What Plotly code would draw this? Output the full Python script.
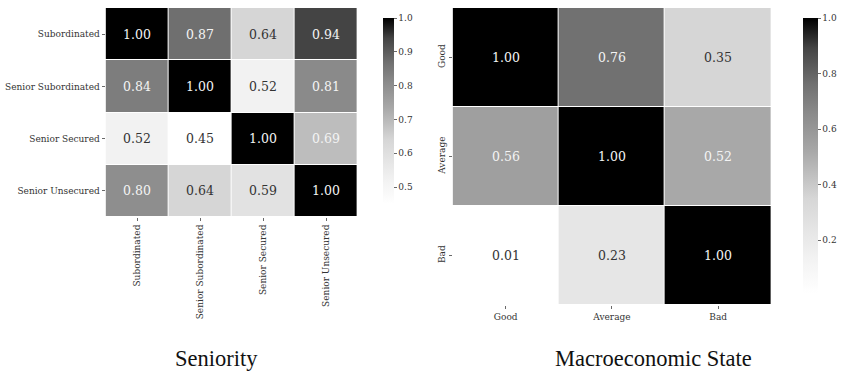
import plotly.graph_objects as go

# ---------------- data ----------------
sen_labels = ["Subordinated", "Senior Subordinated", "Senior Secured", "Senior Unsecured"]
sen_values = [
    [1.00, 0.87, 0.64, 0.94],
    [0.84, 1.00, 0.52, 0.81],
    [0.52, 0.45, 1.00, 0.69],
    [0.80, 0.64, 0.59, 1.00],
]
sen_ticks = [0.5, 0.6, 0.7, 0.8, 0.9, 1.0]

mac_labels = ["Good", "Average", "Bad"]
mac_values = [
    [1.00, 0.76, 0.35],
    [0.56, 1.00, 0.52],
    [0.01, 0.23, 1.00],
]
mac_ticks = [0.2, 0.4, 0.6, 0.8, 1.0]

titles = ["Seniority", "Macroeconomic State"]

# ---------------- style ----------------
W, H = 847, 374
# grey ramp (position, grey level) as seen in the reference
grey_stops = [(0.0, 255), (0.127, 242), (0.222, 230), (0.345, 214), (0.515, 168),
              (0.655, 138), (0.76, 112), (0.891, 68), (1.0, 0)]
colorscale = [[p, f"rgb({g},{g},{g})"] for p, g in grey_stops]
TICK_FONT = dict(family="DejaVu Serif", size=9, color="#333333")
ANN_FONT = "DejaVu Serif"


def px_x(p):
    return p / W


def px_y(p):
    return 1 - p / H


def grey_at(t):
    t = min(max(t, 0.0), 1.0)
    for (p0, g0), (p1, g1) in zip(grey_stops[:-1], grey_stops[1:]):
        if p0 <= t <= p1:
            return g0 + (g1 - g0) * (t - p0) / (p1 - p0)
    return 0


fig = go.Figure()

panels = [
    dict(labels=sen_labels, z=sen_values, ticks=sen_ticks, xa="x", ya="y",
         xdom=[px_x(108), px_x(366)], ydom=[px_y(217), px_y(8)],
         cbx=px_x(382), cbthick=11, cby=(8, 214), xangle=-90, yangle=0),
    dict(labels=mac_labels, z=mac_values, ticks=mac_ticks, xa="x2", ya="y2",
         xdom=[px_x(463), px_x(789)], ydom=[px_y(305), px_y(8)],
         cbx=px_x(811), cbthick=15, cby=(8, 303), xangle=0, yangle=-90),
]

annotations = []
for k, p in enumerate(panels):
    flat = [v for row in p["z"] for v in row]
    zmin, zmax = min(flat), max(flat)
    top, bot = p["cby"]
    fig.add_trace(go.Heatmap(
        z=p["z"], x=p["labels"], y=p["labels"],
        xaxis=p["xa"], yaxis=p["ya"],
        colorscale=colorscale, zmin=zmin, zmax=zmax,
        xgap=1, ygap=1, hoverinfo="skip",
        colorbar=dict(
            x=p["cbx"], xanchor="left", xref="paper",
            y=px_y((top + bot) / 2), yanchor="middle",
            len=(bot - top) / H, lenmode="fraction",
            thickness=p["cbthick"], thicknessmode="pixels",
            outlinewidth=0, tickvals=p["ticks"], tickformat=".1f",
            ticks="outside", ticklen=3, tickwidth=0.8, tickcolor="#444",
            tickfont=TICK_FONT,
        ),
    ))
    sfx = "" if k == 0 else "2"
    fig.update_layout(**{
        "xaxis" + sfx: dict(domain=p["xdom"], anchor=p["ya"], showgrid=False,
                            zeroline=False, showline=False, ticks="outside",
                            ticklen=3, tickwidth=0.8, tickcolor="#444",
                            tickangle=p["xangle"], tickfont=TICK_FONT,
                            fixedrange=True),
        "yaxis" + sfx: dict(domain=p["ydom"], anchor=p["xa"], showgrid=False,
                            zeroline=False, showline=False, ticks="outside",
                            ticklen=3, tickwidth=0.8, tickcolor="#444",
                            tickangle=p["yangle"], tickfont=TICK_FONT,
                            autorange="reversed", fixedrange=True),
    })
    for i, row in enumerate(p["z"]):
        for j, v in enumerate(row):
            g = grey_at((v - zmin) / (zmax - zmin))
            col = "#333333" if g > 200 else "#f4f4f4"
            annotations.append(dict(
                x=p["labels"][j], y=p["labels"][i], xref=p["xa"], yref=p["ya"],
                text=f"{v:.2f}", showarrow=False,
                font=dict(family=ANN_FONT, size=12.5, color=col),
            ))

for t, cx in zip(titles, [221, 668]):
    annotations.append(dict(
        x=px_x(cx), y=px_y(358), xref="paper", yref="paper",
        xanchor="center", yanchor="middle", text=t, showarrow=False,
        font=dict(family="Liberation Serif, serif", size=22.5, color="#111111"),
    ))

fig.update_layout(
    width=W, height=H, margin=dict(l=0, r=0, t=0, b=0),
    paper_bgcolor="white", plot_bgcolor="white",
    annotations=annotations, showlegend=False,
)

fig.write_html("out.html",
               config={"displayModeBar": False, "staticPlot": True},
               post_script="document.body.style.margin='0';"
                           "document.body.style.overflow='hidden';")
